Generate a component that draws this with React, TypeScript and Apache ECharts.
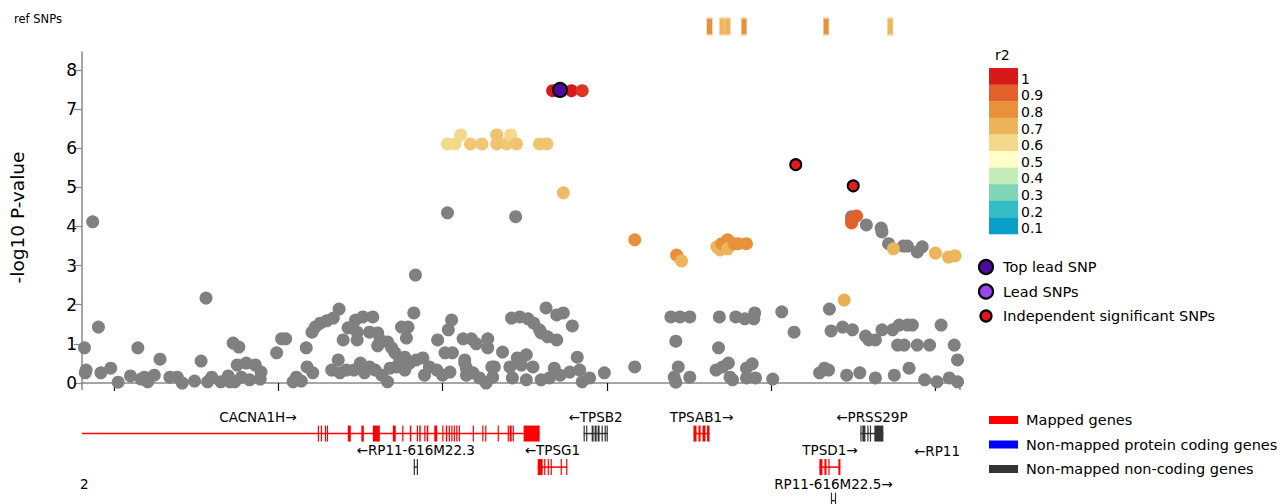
import React, { useEffect, useRef } from 'react';
import * as echarts from 'echarts';

// ---- axis extents (kb on chr16) ----
const X_MIN = 1166.1;
const X_MAX = 1273.0;
const xTickValues = [1170, 1190, 1210, 1230, 1250, 1270];
const Y_MAX = 8.46;

// ---- r2 colour scale ----
const r2Levels = [1, 0.9, 0.8, 0.7, 0.6, 0.5, 0.4, 0.3, 0.2, 0.1];
const r2Colors = ['#d8191c', '#e2612a', '#e8903a', '#edb55b', '#f5d98b', '#ffffc8', '#c4ecb9', '#7fd5b8', '#33bcc3', '#0a9fc8'];

// ---- SNPs without LD info (grey): [kb, -log10 P] ----
const greySNPs: [number, number][] = [
  [1166.4, 0.9], [1166.6, 0.33], [1166.5, 0.26], [1167.4, 4.12], [1168.1, 1.43], [1168.4, 0.26], [1169.6, 0.38],
  [1170.5, 0.02], [1172.0, 0.18], [1172.9, 0.9], [1173.3, 0.1], [1173.7, 0.15], [1174.1, 0.03], [1174.9, 0.2],
  [1175.6, 0.61], [1176.8, 0.15], [1177.7, 0.15], [1178.3, 0.0], [1179.8, 0.05], [1180.6, 0.56], [1181.2, 2.17],
  [1181.4, 0.03], [1181.9, 0.15], [1183.0, 0.03], [1183.9, 0.18], [1184.1, 0.03], [1184.5, 1.02], [1184.7, 0.03],
  [1185.0, 0.46], [1185.2, 0.92], [1185.5, 0.15], [1186.1, 0.51], [1186.5, 0.08], [1187.2, 0.46], [1187.8, 0.1],
  [1187.9, 0.28], [1189.8, 0.77], [1190.4, 1.13], [1190.9, 1.13], [1191.8, 0.03],
  [1192.2, 0.15], [1192.8, 0.05], [1193.4, 0.9], [1193.5, 0.41], [1194.1, 1.3], [1194.2, 0.26], [1194.5, 1.43],
  [1195.1, 1.53], [1195.9, 1.59], [1196.5, 0.33], [1196.7, 1.66], [1197.3, 0.59], [1197.4, 1.89], [1197.5, 0.26],
  [1197.9, 1.1], [1198.3, 0.33], [1198.5, 1.41], [1199.2, 0.33], [1199.4, 1.61], [1199.6, 1.3], [1199.6, 1.1],
  [1200.0, 0.51], [1200.3, 1.69], [1200.5, 0.26], [1201.1, 0.41], [1201.1, 1.3], [1201.5, 1.69], [1201.8, 0.33],
  [1202.1, 1.28], [1202.1, 0.95], [1202.4, 1.1], [1202.6, 0.2], [1203.3, 0.03], [1203.3, 1.05], [1203.6, 0.38],
  [1203.8, 0.9], [1204.2, 0.77], [1204.4, 0.41], [1204.8, 0.59], [1205.0, 1.43], [1205.4, 0.66], [1205.4, 0.33],
  [1205.6, 1.15], [1205.8, 1.43], [1206.0, 0.51], [1206.5, 1.79], [1206.7, 2.76], [1206.8, 0.59], [1207.6, 0.64],
  [1207.8, 0.2], [1208.4, 0.41], [1209.3, 0.33], [1209.4, 1.1], [1210.0, 0.2], [1210.3, 0.77], [1210.6, 4.35],
  [1210.7, 1.36], [1210.9, 0.28], [1211.1, 1.61], [1211.2, 0.77], [1212.5, 1.13], [1212.7, 0.51], [1212.9, 0.2],
  [1212.9, 0.38], [1212.7, 0.59], [1213.5, 1.13], [1213.7, 0.26], [1214.1, 1.0], [1214.5, 0.13], [1215.3, 0.0],
  [1215.5, 1.13], [1215.5, 0.9], [1216.0, 0.41], [1216.1, 0.15], [1216.3, 0.41], [1217.3, 0.79], [1218.2, 0.41],
  [1218.4, 1.66], [1218.5, 0.13], [1218.9, 4.25], [1219.1, 0.64], [1219.4, 1.69], [1219.6, 0.46], [1220.2, 0.72],
  [1220.2, 0.08], [1220.4, 1.64], [1221.0, 0.41], [1221.1, 1.53], [1221.8, 1.36], [1222.0, 0.08], [1222.0, 1.28],
  [1222.6, 1.92], [1222.8, 1.18], [1223.0, 0.13], [1223.6, 0.38], [1223.9, 1.74], [1223.9, 1.1], [1224.3, 0.2],
  [1224.7, 1.79], [1225.5, 0.28], [1225.8, 1.46], [1226.4, 0.66], [1226.7, 0.33], [1227.0, 0.03], [1227.9, 0.13],
  [1229.7, 0.26], [1233.4, 0.41],
  [1237.8, 1.69], [1238.4, 1.07], [1238.2, 0.15], [1238.4, 0.02], [1238.7, 0.41], [1238.9, 1.69], [1240.1, 1.69],
  [1240.1, 0.15], [1243.3, 0.33], [1243.6, 0.9], [1243.7, 1.69], [1244.1, 0.41], [1244.8, 0.51], [1245.0, 0.15],
  [1245.3, 0.08], [1245.7, 1.69], [1246.8, 1.64], [1247.0, 0.38], [1247.0, 0.13], [1247.7, 0.49], [1247.9, 1.64],
  [1248.0, 1.79], [1248.1, 0.13], [1250.2, 0.1], [1251.3, 1.82], [1252.8, 1.3],
  [1255.9, 0.26], [1256.5, 0.38], [1257.0, 0.33], [1257.1, 1.89], [1257.3, 1.33], [1258.7, 1.43], [1259.2, 0.2],
  [1259.9, 1.36], [1259.8, 4.25], [1260.8, 0.26], [1261.5, 1.2], [1261.6, 4.04], [1261.9, 1.1], [1262.7, 1.1],
  [1262.7, 0.13], [1263.4, 3.96], [1263.5, 3.86], [1263.5, 1.36], [1264.3, 3.56], [1264.8, 1.36], [1265.0, 0.2],
  [1265.4, 0.97], [1265.6, 1.48], [1266.1, 3.5], [1266.2, 0.97], [1266.6, 3.5], [1266.6, 1.48], [1266.8, 0.38],
  [1267.2, 1.48], [1267.8, 3.35], [1267.8, 0.97], [1268.4, 3.48], [1268.7, 0.08], [1269.3, 0.97], [1270.2, 0.03],
  [1270.7, 1.48], [1271.7, 0.13], [1272.3, 0.97], [1272.7, 0.59], [1272.7, 0.03],
];

// ---- SNPs in LD with the lead SNP: [kb, -log10 P, r2] ----
const ldSNPs: [number, number, number][] = [
  [1210.6, 6.11, 0.6], [1211.5, 6.11, 0.6], [1212.2, 6.34, 0.6], [1213.4, 6.11, 0.65], [1214.8, 6.11, 0.65],
  [1216.6, 6.34, 0.66], [1216.6, 6.11, 0.66], [1217.8, 6.11, 0.65], [1218.3, 6.34, 0.6], [1219.0, 6.11, 0.66],
  [1221.8, 6.11, 0.66], [1222.7, 6.11, 0.66], [1224.7, 4.86, 0.68],
  [1233.4, 3.66, 0.8], [1238.5, 3.27, 0.8], [1239.1, 3.12, 0.7], [1243.4, 3.48, 0.7], [1243.8, 3.4, 0.7],
  [1244.0, 3.56, 0.8], [1244.7, 3.66, 0.8], [1244.7, 3.43, 0.7], [1245.5, 3.56, 0.8], [1246.0, 3.56, 0.8],
  [1247.0, 3.56, 0.8], [1258.9, 2.12, 0.72], [1259.8, 4.17, 0.9], [1260.4, 4.27, 0.9], [1259.8, 4.09, 0.9],
  [1264.9, 3.43, 0.7], [1270.0, 3.32, 0.7], [1271.6, 3.22, 0.7], [1272.4, 3.25, 0.7],
  [1223.4, 7.47, 1.0], [1225.7, 7.47, 1.0], [1227.0, 7.47, 0.96],
];

const independentSNPs: [number, number][] = [[1253.0, 5.58], [1260.0, 5.04]];
const topLeadSNP: [number, number][] = [[1224.3, 7.49]];

// ---- reference SNPs (top track): [kb, r2] ----
const refSNPs: [number, number][] = [
  [1242.5, 0.8], [1244.05, 0.7], [1244.7, 0.7], [1246.7, 0.8], [1256.7, 0.8], [1264.5, 0.7],
];

// ---- genes ----
const geneNames = ['CACNA1H', 'RP11-616M22.3', 'TPSB2', 'TPSG1', 'TPSAB1', 'PRSS29P', 'TPSD1', 'RP11-616M22.5'];
const geneStart = [1153.2, 1206.49, 1227.17, 1221.58, 1240.55, 1260.87, 1255.88, 1257.28];
const geneEnd = [1221.82, 1206.98, 1230.09, 1225.17, 1242.5, 1263.67, 1258.44, 1257.89];
const geneStrand = ['+', '-', '-', '-', '+', '-', '+', '+'];
const geneRow = [0, 1, 0, 1, 0, 0, 1, 2];
const geneMapped = [true, false, false, true, true, false, true, false];
const geneExons: [number, number][][] = [
  [[1194.81, 1194.94], [1195.18, 1195.3], [1195.67, 1195.79], [1195.91, 1196.03], [1198.46, 1198.83],
   [1200.11, 1200.41], [1201.51, 1202.36], [1203.94, 1204.3], [1205.09, 1205.22], [1206.01, 1206.19],
   [1206.86, 1206.98], [1207.16, 1207.34], [1207.77, 1207.89], [1208.07, 1208.26], [1208.99, 1209.35],
   [1209.96, 1210.08], [1210.39, 1210.57], [1210.75, 1210.87], [1211.06, 1211.18], [1211.36, 1211.48],
   [1211.66, 1211.79], [1211.97, 1212.09], [1213.67, 1213.79], [1214.83, 1214.95], [1215.19, 1215.31],
   [1216.71, 1216.83], [1217.93, 1218.05], [1218.17, 1218.42], [1218.54, 1218.66], [1219.87, 1221.82]],
  [[1206.49, 1206.61], [1206.86, 1206.98]],
  [[1227.17, 1227.29], [1227.48, 1227.6], [1228.15, 1228.39], [1228.51, 1228.76], [1228.88, 1229.12],
   [1229.36, 1229.48], [1229.73, 1229.85], [1229.97, 1230.09]],
  [[1221.58, 1222.19], [1222.37, 1222.49], [1222.8, 1222.92], [1223.16, 1223.28], [1224.38, 1224.5], [1225.05, 1225.17]],
  [[1240.55, 1240.92], [1241.16, 1241.41], [1241.65, 1242.01], [1242.2, 1242.5]],
  [[1260.87, 1260.99], [1261.11, 1261.48], [1261.72, 1261.84], [1262.03, 1262.15], [1262.57, 1263.67]],
  [[1255.88, 1256.25], [1256.49, 1256.74], [1256.98, 1257.1], [1258.19, 1258.44]],
  [[1257.28, 1257.4], [1257.77, 1257.89]],
];

const geneLegendLabels = ['Mapped genes', 'Non-mapped protein coding genes', 'Non-mapped non-coding genes'];
const geneLegendColors = ['#ff0000', '#0000ff', '#333333'];
const snpLegendLabels = ['Top lead SNP', 'Lead SNPs', 'Independent significant SNPs'];
const snpLegendColors = ['#4b0c9b', '#9a45f0', '#e8141a'];

const FONT = 'DejaVu Sans';

function hexToRgb(h: string) {
  const n = parseInt(h.slice(1), 16);
  return [(n >> 16) & 255, (n >> 8) & 255, n & 255];
}
function r2Color(r: number): string {
  if (r >= r2Levels[0]) return r2Colors[0];
  for (let i = 0; i < r2Levels.length - 1; i++) {
    const hi = r2Levels[i], lo = r2Levels[i + 1];
    if (r <= hi && r >= lo) {
      const t = (r - lo) / (hi - lo);
      const a = hexToRgb(r2Colors[i + 1]), b = hexToRgb(r2Colors[i]);
      const c = a.map((v, k) => Math.round(v + (b[k] - v) * t));
      return `rgb(${c[0]},${c[1]},${c[2]})`;
    }
  }
  return r2Colors[r2Colors.length - 1];
}

const GRID_LEFT = 82;
const GRID_RIGHT = 320;

export default function App() {
  const ref = useRef<HTMLDivElement>(null);
  useEffect(() => {
    if (!ref.current) return;
    const chart = echarts.init(ref.current, undefined, { renderer: 'svg' });

    const graphics: any[] = [];
    graphics.push({ type: 'text', left: 14, top: 13, style: { text: 'ref SNPs', font: `11.5px ${FONT}`, fill: '#000' } });
    // r2 legend
    graphics.push({ type: 'text', x: 995, y: 55, style: { text: 'r2', font: `14px ${FONT}`, fill: '#000', align: 'left', verticalAlign: 'middle', textAlign: 'left', textVerticalAlign: 'middle' } });
    const cellH = 16.6;
    r2Levels.forEach((lv, i) => {
      graphics.push({ type: 'rect', shape: { x: 989, y: 68 + i * cellH, width: 29, height: cellH + 0.3 }, style: { fill: r2Colors[i] } });
      graphics.push({ type: 'text', x: 1021, y: 68 + i * cellH + cellH / 2 + 2.5, style: { text: String(lv), font: `14px ${FONT}`, fill: '#000', align: 'left', verticalAlign: 'middle', textAlign: 'left', textVerticalAlign: 'middle' } });
    });
    // SNP type legend
    snpLegendLabels.forEach((lb, i) => {
      const cy = 267 + i * 24.5;
      const r = i === 2 ? 5.5 : 7;
      graphics.push({ type: 'circle', shape: { cx: 986, cy, r }, style: { fill: snpLegendColors[i], stroke: '#000', lineWidth: 2.2 } });
      graphics.push({ type: 'text', x: 1003, y: cy, style: { text: lb, font: `14.5px ${FONT}`, fill: '#000', align: 'left', verticalAlign: 'middle', textAlign: 'left', textVerticalAlign: 'middle' } });
    });
    // gene legend
    geneLegendLabels.forEach((lb, i) => {
      const cy = 420 + i * 24.5;
      graphics.push({ type: 'rect', shape: { x: 989, y: cy - 4, width: 29, height: 8 }, style: { fill: geneLegendColors[i] } });
      graphics.push({ type: 'text', x: 1026, y: cy, style: { text: lb, font: `14.5px ${FONT}`, fill: '#000', align: 'left', verticalAlign: 'middle', textAlign: 'left', textVerticalAlign: 'middle' } });
    });
    // clipped gene labels at the edges of the window
    graphics.push({ type: 'text', x: 960, y: 451, style: { text: '←RP11', font: `13.5px ${FONT}`, fill: '#000', align: 'right', verticalAlign: 'middle', textAlign: 'right', textVerticalAlign: 'middle' } });
    graphics.push({ type: 'text', x: 80, y: 484, style: { text: '2', font: `13.5px ${FONT}`, fill: '#000', align: 'left', verticalAlign: 'middle', textAlign: 'left', textVerticalAlign: 'middle' } });
    // outer ticks at the ends of the x domain
    graphics.push({ type: 'line', shape: { x1: 82, y1: 383, x2: 82, y2: 390 }, style: { stroke: '#888', lineWidth: 1.5 } });
    graphics.push({ type: 'line', shape: { x1: 960, y1: 383, x2: 960, y2: 390 }, style: { stroke: '#888', lineWidth: 1.5 } });

    const geneData = geneNames.map((_, i) => [geneStart[i], geneEnd[i], geneRow[i], i]);

    const option: any = {
      animation: false,
      backgroundColor: '#fff',
      textStyle: { fontFamily: FONT },
      grid: [
        { left: GRID_LEFT, right: GRID_RIGHT, top: 52, bottom: 121 },
        { left: GRID_LEFT, right: GRID_RIGHT, top: 18, height: 17 },
        { left: GRID_LEFT, right: GRID_RIGHT, top: 400, height: 104 },
      ],
      xAxis: [
        {
          type: 'value', gridIndex: 0, min: X_MIN, max: X_MAX,
          axisLine: { show: true, onZero: false, lineStyle: { color: '#888', width: 1.5 } },
          axisTick: { show: true, customValues: xTickValues, length: 8, lineStyle: { color: '#111', width: 1.2 } },
          axisLabel: { show: false },
          splitLine: { show: false },
        },
        { type: 'value', gridIndex: 1, min: X_MIN, max: X_MAX, show: false },
        { type: 'value', gridIndex: 2, min: X_MIN, max: X_MAX, show: false },
      ],
      yAxis: [
        {
          type: 'value', gridIndex: 0, min: 0, max: Y_MAX, interval: 1,
          name: '-log10 P-value', nameLocation: 'middle', nameGap: 55,
          nameTextStyle: { fontSize: 18.5, color: '#000', fontFamily: FONT },
          axisLine: { show: true, lineStyle: { color: '#888', width: 1.5 } },
          axisTick: { show: true, length: 8, lineStyle: { color: '#888', width: 1.2 } },
          axisLabel: { fontSize: 17, color: '#000', margin: 5, fontFamily: FONT, showMaxLabel: false },
          splitLine: { show: false },
        },
        { type: 'value', gridIndex: 1, min: 0, max: 1, show: false },
        { type: 'value', gridIndex: 2, min: -1, max: 2.1, inverse: true, show: false },
      ],
      graphic: graphics,
      series: [
        {
          type: 'scatter', xAxisIndex: 0, yAxisIndex: 0, symbolSize: 13,
          itemStyle: { color: '#808080', opacity: 1 },
          data: greySNPs, z: 2,
        },
        {
          type: 'scatter', xAxisIndex: 0, yAxisIndex: 0, symbolSize: 13,
          data: ldSNPs.map(([x, y, r]) => ({ value: [x, y], itemStyle: { color: r2Color(r), opacity: 1 } })), z: 3,
        },
        {
          type: 'scatter', xAxisIndex: 0, yAxisIndex: 0, symbolSize: 11,
          itemStyle: { color: '#e01c1c', borderColor: '#000', borderWidth: 2, opacity: 1 },
          data: independentSNPs, z: 4,
        },
        {
          type: 'scatter', xAxisIndex: 0, yAxisIndex: 0, symbolSize: 14,
          itemStyle: { color: '#4b0c9b', borderColor: '#000', borderWidth: 2, opacity: 1 },
          data: topLeadSNP, z: 5,
        },
        {
          type: 'scatter', xAxisIndex: 1, yAxisIndex: 1, symbol: 'rect', symbolSize: [5.5, 17],
          data: refSNPs.map(([x, r]) => ({ value: [x, 0.5], itemStyle: { color: r2Color(r), borderColor: 'rgba(250,215,170,0.8)', borderWidth: 1, opacity: 1 } })),
        },
        {
          type: 'custom', xAxisIndex: 2, yAxisIndex: 2, clip: false,
          encode: { x: [0, 1], y: 2 },
          data: geneData,
          renderItem: (params: any, api: any) => {
            const i = api.value(3) as number;
            const row = geneRow[i];
            const color = geneMapped[i] ? '#ff0000' : '#333333';
            const s = Math.max(geneStart[i], X_MIN);
            const e = Math.min(geneEnd[i], X_MAX);
            const p0 = api.coord([s, row]);
            const p1 = api.coord([e, row]);
            const yc = p0[1];
            const children: any[] = [];
            children.push({ type: 'line', shape: { x1: p0[0], y1: yc, x2: p1[0], y2: yc }, style: { stroke: color, lineWidth: 1.5 } });
            geneExons[i].forEach(([a, b]) => {
              const xa = api.coord([a, row])[0];
              const xb = api.coord([b, row])[0];
              children.push({ type: 'rect', shape: { x: xa, y: yc - 8, width: Math.max(xb - xa, 1.2), height: 16 }, style: { fill: color } });
            });
            const cx = api.coord([(geneStart[i] + geneEnd[i]) / 2, row])[0];
            const label = geneStrand[i] === '+' ? `${geneNames[i]}→` : `←${geneNames[i]}`;
            children.push({
              type: 'text', x: cx, y: yc - 17,
              style: { text: label, font: `13.5px ${FONT}`, fill: '#000', align: 'center', verticalAlign: 'middle', textAlign: 'center', textVerticalAlign: 'middle' },
            });
            return { type: 'group', children };
          },
        },
      ],
    };
    chart.setOption(option);
    return () => chart.dispose();
  }, []);
  return <div ref={ref} style={{ position: 'fixed', left: 0, top: 0, width: 1280, height: 504, background: '#fff' }} />;
}
